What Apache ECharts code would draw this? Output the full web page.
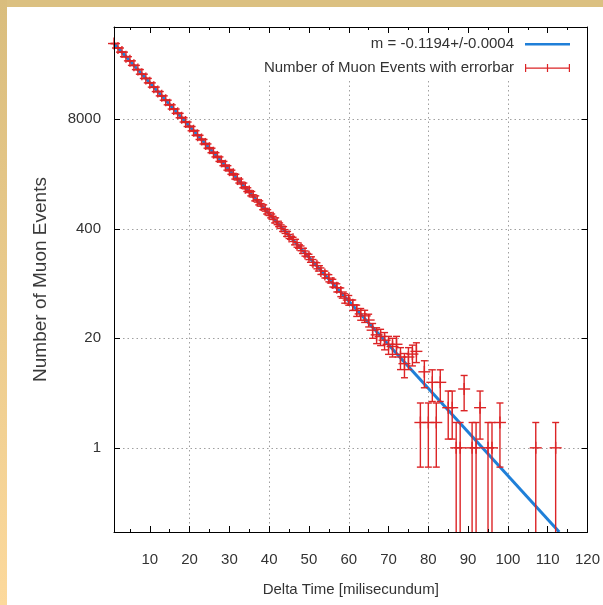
<!DOCTYPE html>
<html>
<head>
<meta charset="utf-8">
<script src="https://cdn.jsdelivr.net/npm/echarts@6/dist/echarts.min.js"></script>
<style>
html,body{margin:0;padding:0;background:#ffffff;}
#c{width:603px;height:605px;}
</style>
</head>
<body>
<div id="c"></div>
<script>
// ---------- data ----------
const times = [
  1,2,3,4,5,6,7,8,9,10,
  11,12,13,14,15,16,17,18,19,20,
  21,22,23,24,25,26,27,28,29,30,
  31,32,33,34,35,36,37,38,39,40,
  41,42,43,44,45,46,47,48,49,50,
  51,52,53,54,55,56,57,58,59,60,
  61,62,63,64,65,66,67,68,69,70,
  71,72,73,74,75,76,77,
  78,79,80,81,82,83,85,86,87,88,89,91,92,93,95,96,98,107,112
];
const counts = [
  63600,56300,50300,44400,39600,35000,31200,27500,24500,21700,
  19300,17100,15200,13500,11900,10600,9430,8350,7430,6570,
  5850,5170,4610,4080,3630,3210,2860,2530,2250,1990,
  1780,1560,1400,1230,1110,985,860,770,675,600,
  540,470,425,372,325,300,258,235,204,186,
  160,146,126,115,104,91,80,71,60,57,
  50,43,39,37,33,25,22,21,19,17,
  16,17,12,10,12,13,14,
  2,8,2,6,2,6,3,3,1,1,5,1,1,3,1,1,2,1,1
];
const errors = [
  252.2,237.3,224.3,210.7,199.0,187.1,176.6,165.8,156.5,147.3,
  138.9,130.8,123.3,116.2,109.1,103.0,97.1,91.4,86.2,81.1,
  76.5,71.9,67.9,63.9,60.2,56.7,53.5,50.3,47.4,44.6,
  42.2,39.5,37.4,35.1,33.3,31.4,29.3,27.7,26.0,24.5,
  23.2,21.7,20.6,19.3,18.0,17.3,16.1,15.3,14.3,13.6,
  12.6,12.1,11.2,10.7,10.2,9.5,8.9,8.4,7.7,7.5,
  7.1,6.6,6.2,6.1,5.7,5.0,4.7,4.6,4.4,4.1,
  4.0,4.1,3.5,3.2,3.5,3.6,3.7,
  1.41,2.83,1.41,2.45,1.41,2.45,1.73,1.73,1,1,2.24,1,1,1.73,1,1,1.41,1,1
];
// fitted exponential (straight on the log axis): start and end points
const fitStart = [1, 63600];
const fitEnd = [112.9, 0.1];

const xTickLabels = [10,20,30,40,50,60,70,80,90,100,110,120];
const xMajorTicks = [10,20,30,40,50,60,70,80,90,100,110];
const xMinorTicks = [5,15,25,35,45,55,65,75,85,95,105,115];
const xGridValues = [10,20,30,40,50,60,70,80,90,100,110];

const fitLabel = 'm = -0.1194+/-0.0004';
const dataLabel = 'Number of Muon Events with errorbar';
const xTitle = 'Delta Time [milisecundum]';
const yTitle = 'Number of Muon Events';

// ---------- styling ----------
const FONT = "'Liberation Sans', Arial, sans-serif";
const TXT = '#333333';
const RED = '#dc2426';
const BLUE = '#1f7fd8';
const GRIDC = '#a0a0a0';
const xMin = 1, xMax = 120, yMin = 0.1, yMax = 100000;

const errData = times.map((t, i) => [t, counts[i], errors[i]]);

function renderErr(params, api) {
  const x = api.value(0), y = api.value(1), e = api.value(2);
  const cs = params.coordSys;
  const bottom = cs.y + cs.height, top0 = cs.y;
  const c = api.coord([x, y]);
  const hi = api.coord([x, y + e]);
  const lowVal = y - e;
  const lo = lowVal > 0 ? api.coord([x, lowVal]) : [c[0], Infinity];
  const yHi = Math.max(hi[1], top0);
  const yLo = Math.min(lo[1], bottom);
  const st = { stroke: RED, lineWidth: 1.4, fill: null };
  const ch = [
    { type: 'line', shape: { x1: c[0], y1: yHi, x2: c[0], y2: yLo }, style: st },
    { type: 'line', shape: { x1: c[0] - 6, y1: c[1], x2: c[0] + 6, y2: c[1] }, style: st },
    { type: 'line', shape: { x1: c[0], y1: c[1] - 6, x2: c[0], y2: c[1] + 6 }, style: st }
  ];
  if (hi[1] >= top0) ch.push({ type: 'line', shape: { x1: c[0] - 3.5, y1: hi[1], x2: c[0] + 3.5, y2: hi[1] }, style: st });
  if (lo[1] <= bottom) ch.push({ type: 'line', shape: { x1: c[0] - 3.5, y1: lo[1], x2: c[0] + 3.5, y2: lo[1] }, style: st });
  return { type: 'group', children: ch };
}

function xAx(extra) {
  return Object.assign({
    type: 'value', min: xMin, max: xMax,
    axisLine: { show: false, onZero: false },
    axisTick: { show: false },
    axisLabel: { show: false },
    splitLine: { show: false }
  }, extra);
}
function yAx(extra) {
  return Object.assign({
    type: 'log', logBase: 20, min: yMin, max: yMax,
    axisLine: { show: false },
    axisTick: { show: false },
    axisLabel: { show: false },
    splitLine: { show: false }
  }, extra);
}
const blackLine = { show: true, onZero: false, lineStyle: { color: '#000', width: 1 } };

const ICON_LINE = 'path://M0,0 M51,22 M6,10 L51,10 L51,12.5 L6,12.5 Z';
const ICON_ERR = 'path://M0,0 M51,22 M6,10.5 L51,10.5 L51,11.7 L6,11.7 Z M6,7 L7.2,7 L7.2,15 L6,15 Z M49.8,7 L51,7 L51,15 L49.8,15 Z M27.9,7 L29.1,7 L29.1,15 L27.9,15 Z';

const legendBase = {
  orient: 'vertical', align: 'right', right: 33,
  itemWidth: 51, itemHeight: 22, itemGap: 0, padding: 0,
  selectedMode: false,
  itemStyle: { borderWidth: 0 },
  textStyle: { color: TXT, fontSize: 15, fontFamily: FONT }
};

const chart = echarts.init(document.getElementById('c'), null, { renderer: 'canvas' });
chart.setOption({
  animation: false,
  backgroundColor: '#ffffff',
  grid: { left: 114, top: 27, right: 14, bottom: 73, containLabel: false },
  xAxis: [
    xAx({
      position: 'bottom', z: 0,
      name: xTitle, nameLocation: 'middle', nameGap: 50,
      nameTextStyle: { color: TXT, fontSize: 15, fontFamily: FONT },
      axisLabel: { show: true, customValues: xTickLabels, margin: 20, color: TXT, fontSize: 15, fontFamily: FONT },
      splitLine: { show: true, customValues: xGridValues, lineStyle: { color: GRIDC, width: 1, type: [1.5, 3] } }
    }),
    xAx({ position: 'bottom', z: 5, axisLine: blackLine,
      axisTick: { show: true, inside: true, length: 6, customValues: xMajorTicks, lineStyle: { color: '#000', width: 1 } } }),
    xAx({ position: 'top', z: 5, axisLine: blackLine,
      axisTick: { show: true, inside: true, length: 6, customValues: xMajorTicks, lineStyle: { color: '#000', width: 1 } } }),
    xAx({ position: 'bottom', z: 5,
      axisTick: { show: true, inside: true, length: 3, customValues: xMinorTicks, lineStyle: { color: '#000', width: 1 } } }),
    xAx({ position: 'top', z: 5,
      axisTick: { show: true, inside: true, length: 3, customValues: xMinorTicks, lineStyle: { color: '#000', width: 1 } } })
  ],
  yAxis: [
    yAx({
      position: 'left', z: 0,
      name: yTitle, nameLocation: 'middle', nameGap: 64,
      nameTextStyle: { color: '#3a3a3a', fontSize: 19, fontFamily: FONT },
      axisLabel: { show: true, margin: 13, color: TXT, fontSize: 15, fontFamily: FONT,
        formatter: v => (v < 0.5 || v > 50000) ? '' : String(Math.round(v)) },
      splitLine: { show: true, showMinLine: false, showMaxLine: false, lineStyle: { color: GRIDC, width: 1, type: [1.5, 3] } }
    }),
    yAx({ position: 'left', z: 5, axisLine: blackLine,
      axisTick: { show: true, inside: true, length: 6, lineStyle: { color: '#000', width: 1 } } }),
    yAx({ position: 'right', z: 5, axisLine: blackLine,
      axisTick: { show: true, inside: true, length: 6, lineStyle: { color: '#000', width: 1 } } })
  ],
  legend: [
    Object.assign({}, legendBase, { top: 33, data: [{ name: fitLabel, icon: ICON_LINE }] }),
    Object.assign({}, legendBase, { top: 57, data: [{ name: dataLabel, icon: ICON_ERR }] })
  ],
  graphic: {
    elements: [
      { type: 'rect', z: 1, shape: { x: 170, y: 28, width: 418, height: 52 }, style: { fill: '#ffffff' }, silent: true },
      { type: 'rect', z: 10, shape: { x: 0, y: 0, width: 603, height: 7 }, style: { fill: '#dbc081' }, silent: true },
      { type: 'rect', z: 10, shape: { x: 0, y: 0, width: 7, height: 605 },
        style: { fill: new echarts.graphic.LinearGradient(0, 0, 0, 1, [
          { offset: 0, color: '#d9bd7d' }, { offset: 1, color: '#fcd99c' }]) }, silent: true }
    ]
  },
  series: [
    {
      name: fitLabel, type: 'line', xAxisIndex: 0, yAxisIndex: 0,
      data: [fitStart, fitEnd], symbol: 'none', clip: true,
      lineStyle: { color: BLUE, width: 3 }, itemStyle: { color: BLUE }, z: 2
    },
    {
      name: dataLabel, type: 'custom', xAxisIndex: 0, yAxisIndex: 0,
      data: errData, encode: { x: 0, y: 1 }, renderItem: renderErr,
      itemStyle: { color: RED }, z: 3
    }
  ]
});
</script>
</body>
</html>
